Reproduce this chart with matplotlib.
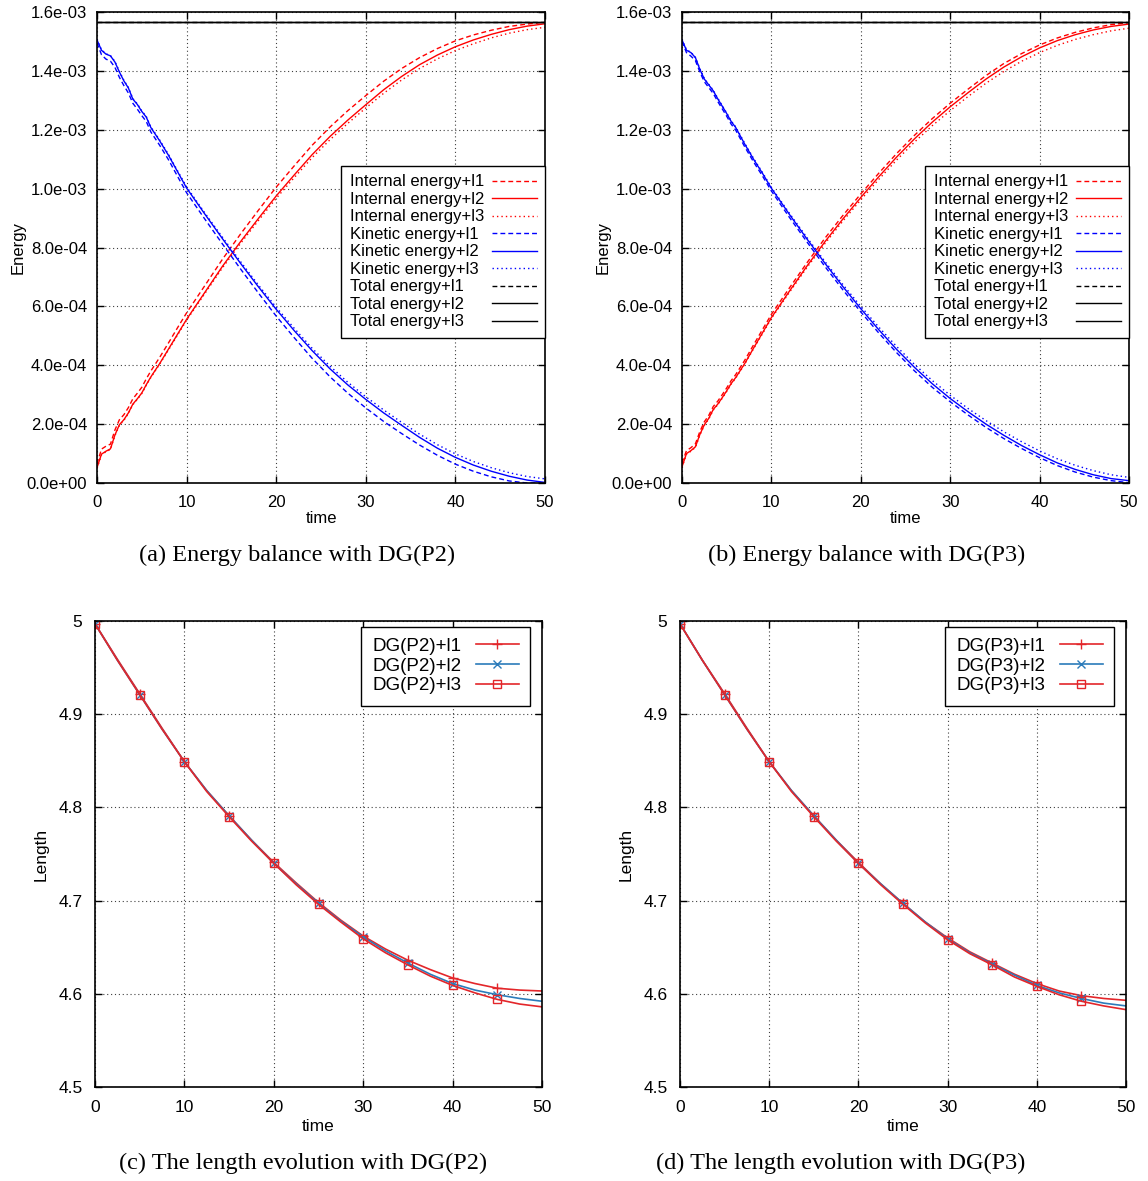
import numpy as np
import matplotlib
matplotlib.use("Agg")
import matplotlib.pyplot as plt
from matplotlib.ticker import FuncFormatter, MultipleLocator

plt.rcParams['font.family'] = ['Liberation Sans', 'DejaVu Sans']

# Figure size in pixels (dpi 100)
W, H = 1148, 1181

# ---------------- Energy data (values in units of 1e-3) ----------------
t_energy = [0, 0.5, 1, 1.5, 2, 2.5, 3, 3.5, 4, 4.5, 5, 5.5, 6, 7, 8, 9, 10,
            12, 14, 16, 18, 20, 22, 24, 26, 28, 30, 32, 34, 36, 38, 40, 42,
            44, 46, 48, 50]

# DG(P2)
int_p2_l1 = [0.065, 0.115, 0.125, 0.132, 0.180, 0.215, 0.232, 0.256, 0.286, 0.305, 0.325, 0.354, 0.380, 0.427, 0.477, 0.528, 0.578,
             0.669, 0.760, 0.845, 0.926, 1.005, 1.077, 1.147, 1.209, 1.265, 1.316, 1.365, 1.408, 1.445, 1.476, 1.502, 1.522,
             1.538, 1.551, 1.559, 1.565]
int_p2_l2 = [0.052, 0.098, 0.108, 0.116, 0.163, 0.198, 0.215, 0.238, 0.268, 0.286, 0.306, 0.334, 0.360, 0.406, 0.456, 0.506, 0.556,
             0.646, 0.736, 0.819, 0.898, 0.975, 1.046, 1.115, 1.177, 1.233, 1.285, 1.336, 1.381, 1.421, 1.454, 1.482, 1.505,
             1.524, 1.540, 1.552, 1.560]
int_p2_l3 = [0.050, 0.096, 0.106, 0.114, 0.161, 0.196, 0.213, 0.236, 0.266, 0.284, 0.304, 0.332, 0.358, 0.404, 0.453, 0.503, 0.553,
             0.642, 0.731, 0.813, 0.891, 0.967, 1.037, 1.105, 1.166, 1.222, 1.274, 1.324, 1.369, 1.408, 1.441, 1.469, 1.492,
             1.512, 1.528, 1.540, 1.548]
kin_p2_l1 = [1.495, 1.455, 1.440, 1.433, 1.412, 1.378, 1.350, 1.325, 1.290, 1.270, 1.248, 1.228, 1.193, 1.147, 1.097, 1.041, 0.986,
             0.898, 0.812, 0.728, 0.646, 0.567, 0.494, 0.424, 0.361, 0.305, 0.255, 0.209, 0.168, 0.129, 0.094, 0.064, 0.040,
             0.021, 0.007, 0.000, 0.000]
kin_p2_l2 = [1.505, 1.470, 1.457, 1.451, 1.430, 1.396, 1.366, 1.342, 1.304, 1.286, 1.262, 1.243, 1.208, 1.162, 1.112, 1.057, 1.002,
             0.915, 0.830, 0.747, 0.667, 0.590, 0.518, 0.450, 0.388, 0.333, 0.284, 0.238, 0.196, 0.155, 0.118, 0.087, 0.061,
             0.040, 0.023, 0.010, 0.002]
kin_p2_l3 = [1.507, 1.472, 1.458, 1.452, 1.432, 1.398, 1.368, 1.344, 1.306, 1.288, 1.264, 1.245, 1.210, 1.165, 1.115, 1.060, 1.006,
             0.919, 0.835, 0.753, 0.673, 0.597, 0.526, 0.458, 0.397, 0.342, 0.293, 0.248, 0.206, 0.166, 0.130, 0.099, 0.073,
             0.052, 0.035, 0.022, 0.014]

# DG(P3)
int_p3_l1 = [0.068, 0.110, 0.120, 0.133, 0.175, 0.208, 0.230, 0.260, 0.278, 0.300, 0.323, 0.348, 0.368, 0.416, 0.469, 0.521, 0.573,
             0.662, 0.749, 0.832, 0.909, 0.982, 1.052, 1.119, 1.181, 1.238, 1.290, 1.338, 1.384, 1.425, 1.459, 1.488, 1.512,
             1.531, 1.546, 1.557, 1.564]
int_p3_l2 = [0.055, 0.100, 0.110, 0.123, 0.165, 0.198, 0.220, 0.250, 0.268, 0.290, 0.313, 0.338, 0.358, 0.405, 0.458, 0.510, 0.562,
             0.651, 0.738, 0.820, 0.897, 0.970, 1.040, 1.107, 1.169, 1.226, 1.278, 1.326, 1.372, 1.413, 1.448, 1.478, 1.503,
             1.523, 1.539, 1.551, 1.559]
int_p3_l3 = [0.053, 0.098, 0.108, 0.121, 0.163, 0.196, 0.218, 0.248, 0.266, 0.288, 0.311, 0.336, 0.356, 0.403, 0.456, 0.507, 0.559,
             0.647, 0.733, 0.814, 0.890, 0.962, 1.031, 1.097, 1.158, 1.214, 1.265, 1.313, 1.358, 1.398, 1.433, 1.462, 1.487,
             1.507, 1.523, 1.536, 1.545]
kin_p3_l1 = [1.500, 1.462, 1.450, 1.435, 1.396, 1.363, 1.343, 1.323, 1.296, 1.271, 1.246, 1.219, 1.199, 1.143, 1.091, 1.043, 0.992,
             0.903, 0.818, 0.735, 0.656, 0.581, 0.510, 0.443, 0.381, 0.325, 0.276, 0.231, 0.189, 0.151, 0.117, 0.086, 0.059,
             0.037, 0.020, 0.008, 0.001]
kin_p3_l2 = [1.505, 1.470, 1.462, 1.445, 1.405, 1.372, 1.352, 1.332, 1.305, 1.280, 1.255, 1.228, 1.208, 1.152, 1.100, 1.052, 1.001,
             0.913, 0.828, 0.746, 0.667, 0.592, 0.521, 0.454, 0.393, 0.337, 0.287, 0.242, 0.200, 0.162, 0.127, 0.096, 0.068,
             0.046, 0.028, 0.015, 0.008]
kin_p3_l3 = [1.507, 1.472, 1.463, 1.446, 1.407, 1.374, 1.354, 1.334, 1.307, 1.282, 1.257, 1.230, 1.210, 1.155, 1.103, 1.055, 1.004,
             0.917, 0.833, 0.752, 0.674, 0.600, 0.530, 0.464, 0.403, 0.348, 0.298, 0.253, 0.212, 0.174, 0.140, 0.109, 0.082,
             0.060, 0.042, 0.028, 0.019]

# Total energy is flat
t_total = [0, 50]
total_l1 = [1.566, 1.566]
total_l2 = [1.566, 1.566]
total_l3 = [1.566, 1.566]

# ---------------- Length data ----------------
t_length = [0, 2.5, 5, 7.5, 10, 12.5, 15, 17.5, 20, 22.5, 25, 27.5, 30,
            32.5, 35, 37.5, 40, 42.5, 45, 47.5, 50]

len_p2_l1 = [4.997, 4.959, 4.922, 4.885, 4.849, 4.818, 4.791, 4.765, 4.741, 4.719, 4.698, 4.679, 4.662,
             4.648, 4.636, 4.626, 4.617, 4.611, 4.606, 4.604, 4.603]
len_p2_l2 = [4.997, 4.958, 4.921, 4.884, 4.849, 4.818, 4.791, 4.765, 4.740, 4.718, 4.697, 4.678, 4.661,
             4.646, 4.633, 4.621, 4.611, 4.604, 4.599, 4.595, 4.592]
len_p2_l3 = [4.997, 4.958, 4.921, 4.884, 4.849, 4.817, 4.790, 4.764, 4.740, 4.717, 4.696, 4.677, 4.659,
             4.644, 4.631, 4.619, 4.609, 4.601, 4.594, 4.589, 4.586]

len_p3_l1 = [4.997, 4.958, 4.922, 4.885, 4.849, 4.818, 4.791, 4.765, 4.741, 4.718, 4.697, 4.677, 4.660,
             4.645, 4.633, 4.621, 4.611, 4.603, 4.598, 4.595, 4.593]
len_p3_l2 = [4.997, 4.958, 4.921, 4.884, 4.849, 4.818, 4.791, 4.765, 4.740, 4.718, 4.697, 4.677, 4.659,
             4.644, 4.632, 4.620, 4.609, 4.601, 4.595, 4.590, 4.587]
len_p3_l3 = [4.997, 4.958, 4.921, 4.884, 4.849, 4.817, 4.790, 4.764, 4.740, 4.717, 4.696, 4.676, 4.658,
             4.643, 4.631, 4.618, 4.608, 4.599, 4.592, 4.587, 4.583]

captions = ["(a) Energy balance with DG(P2)", "(b) Energy balance with DG(P3)",
            "(c) The length evolution with DG(P2)", "(d) The length evolution with DG(P3)"]

RED = "#ff0000"
BLUE = "#0000ff"
LRED = "#e3262a"
LBLUE = "#2b7bba"
DASH = (0, (3.5, 2.2))
DOT = (0, (1.0, 2.2))


def px_rect(left, top, right, bottom):
    # Axes rectangle from pixel edges
    return [left / W, 1 - bottom / H, (right - left) / W, (bottom - top) / H]


def style_axes(ax, fs, xpad, ypad):
    ax.tick_params(direction="in", top=True, right=True, length=5, width=1,
                   labelsize=fs)
    ax.tick_params(axis="x", pad=xpad)
    ax.tick_params(axis="y", pad=ypad)
    for s in ax.spines.values():
        s.set_linewidth(1.2)
    ax.grid(True, color="0.25", lw=0.8, ls=(0, (1, 2.5)))
    ax.set_axisbelow(True)


def left_align_legend(fig, leg):
    # gnuplot style: labels flush left, samples flush right
    renderer = fig.canvas.get_renderer()
    rows = []
    for col in leg._legend_handle_box.get_children():
        rows.extend(col.get_children())
    widest = max(r.get_bbox(renderer).width for r in rows)
    for r in rows:
        r.mode = "expand"
        r.width = widest


def draw_energy(ax, internal, kinetic):
    styles = [DASH, "-", DOT]
    tags = ["l1", "l2", "l3"]
    for vals, ls, tag in zip(internal, styles, tags):
        ax.plot(t_energy, np.array(vals) * 1e-3, color=RED, lw=1.0, ls=ls,
                label="Internal energy+" + tag)
    for vals, ls, tag in zip(kinetic, styles, tags):
        ax.plot(t_energy, np.array(vals) * 1e-3, color=BLUE, lw=1.0, ls=ls,
                label="Kinetic energy+" + tag)
    for vals, ls, tag in zip([total_l1, total_l2, total_l3], [DASH, "-", "-"], tags):
        ax.plot(t_total, np.array(vals) * 1e-3, color="black", lw=1.0, ls=ls,
                label="Total energy+" + tag)

    ax.set_xlim(0, 50)
    ax.set_ylim(0, 1.6e-3)
    ax.xaxis.set_major_locator(MultipleLocator(10))
    ax.yaxis.set_major_locator(MultipleLocator(2e-4))
    ax.yaxis.set_major_formatter(FuncFormatter(lambda v, _: f"{v:.1e}"))
    style_axes(ax, 12, 8.5, 7)
    ax.set_xlabel("time", fontsize=12, labelpad=1.2)
    ax.set_ylabel("Energy", fontsize=12, labelpad=0.6)

    leg = ax.legend(loc="upper right", bbox_to_anchor=(1.0, 0.673),
                    borderaxespad=0, fontsize=12, markerfirst=False,
                    handlelength=2.7, handletextpad=0.45, labelspacing=0.15,
                    borderpad=0.5, fancybox=False, framealpha=1,
                    edgecolor="black")
    leg.get_frame().set_linewidth(1.0)
    return leg


def draw_length(ax, series, scheme):
    marks = list(range(0, 20, 2))
    specs = [(LRED, "+", 7, "full"), (LBLUE, "x", 6, "full"), (LRED, "s", 6, "none")]
    for i, (vals, (col, mk, ms, fill)) in enumerate(zip(series, specs)):
        ax.plot(t_length, vals, color=col, lw=1.2, marker=mk, ms=ms, mew=1.0,
                markevery=marks, fillstyle=fill,
                label=f"DG({scheme})+l{i + 1}")

    ax.set_xlim(0, 50)
    ax.set_ylim(4.5, 5.0)
    ax.xaxis.set_major_locator(MultipleLocator(10))
    ax.yaxis.set_major_locator(MultipleLocator(0.1))
    ax.yaxis.set_major_formatter(FuncFormatter(lambda v, _: f"{round(v, 1):g}"))
    style_axes(ax, 12.5, 9.6, 9)
    ax.set_xlabel("time", fontsize=12.5, labelpad=2.7)
    ax.set_ylabel("Length", fontsize=12.5, labelpad=7)

    leg = ax.legend(loc="upper right", bbox_to_anchor=(0.973, 0.988),
                    borderaxespad=0, fontsize=13.5, markerfirst=False,
                    handlelength=2.3, handletextpad=0.75, labelspacing=0.14,
                    borderpad=0.6, fancybox=False, framealpha=1,
                    edgecolor="black")
    leg.get_frame().set_linewidth(1.0)
    return leg


fig = plt.figure(figsize=(W / 100, H / 100), dpi=100)

ax_a = fig.add_axes(px_rect(97, 12, 545, 483))
ax_b = fig.add_axes(px_rect(682, 12, 1129, 483))
ax_c = fig.add_axes(px_rect(95, 621, 542, 1087))
ax_d = fig.add_axes(px_rect(680, 621, 1126, 1087))

legends = [
    draw_energy(ax_a, [int_p2_l1, int_p2_l2, int_p2_l3], [kin_p2_l1, kin_p2_l2, kin_p2_l3]),
    draw_energy(ax_b, [int_p3_l1, int_p3_l2, int_p3_l3], [kin_p3_l1, kin_p3_l2, kin_p3_l3]),
    draw_length(ax_c, [len_p2_l1, len_p2_l2, len_p2_l3], "P2"),
    draw_length(ax_d, [len_p3_l1, len_p3_l2, len_p3_l3], "P3"),
]

# Sub-figure captions
cap_pos = [(297, 555), (867, 555), (303, 1163), (841, 1163)]
for text, (x, y) in zip(captions, cap_pos):
    fig.text(x / W, 1 - y / H, text, ha="center", va="center",
             fontsize=17.5, family=["Liberation Serif", "DejaVu Serif"])

fig.canvas.draw()
for leg in legends:
    left_align_legend(fig, leg)

fig.savefig("out.png", dpi=100)
